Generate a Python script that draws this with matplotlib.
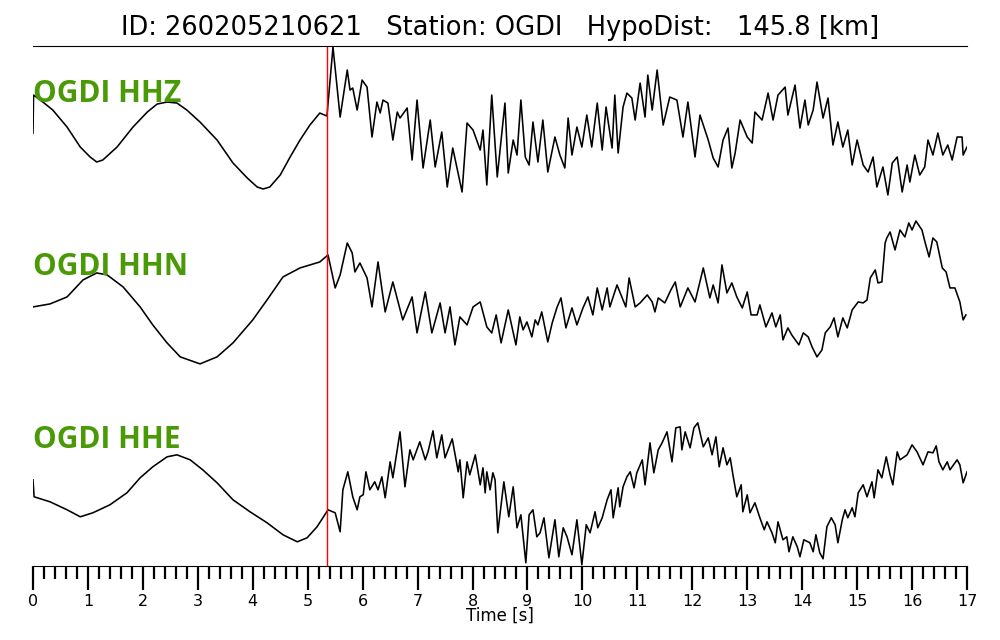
import numpy as np
import matplotlib
matplotlib.use('Agg')
import matplotlib.pyplot as plt
from matplotlib.ticker import MultipleLocator

title = 'ID: 260205210621   Station: OGDI   HypoDist:   145.8 [km]'
labels = ['OGDI HHZ', 'OGDI HHN', 'OGDI HHE']
p_pick = 5.35

# times [s] and amplitudes (arbitrary counts)
hhz_t = [0.00, 0.01, 0.18, 0.36, 0.62, 0.86, 1.04, 1.16, 1.27, 1.53, 1.82, 2.08, 2.26, 2.44, 2.62,
         2.80, 3.04, 3.35, 3.64, 3.90, 4.08, 4.19, 4.31, 4.50, 4.68, 4.86, 5.04, 5.22, 5.35,
         5.46, 5.59, 5.72, 5.77, 5.82, 5.90, 5.99, 6.08, 6.17, 6.26, 6.32, 6.37, 6.46, 6.55, 6.63,
         6.68, 6.81, 6.90, 6.99, 7.10, 7.23, 7.32, 7.44, 7.54, 7.64, 7.81, 7.90, 8.01, 8.14, 8.19,
         8.26, 8.35, 8.45, 8.59, 8.65, 8.74, 8.81, 8.88, 8.96, 9.03, 9.10, 9.19, 9.28, 9.37, 9.50,
         9.59, 9.68, 9.74, 9.81, 9.90, 9.99, 10.08, 10.17, 10.27, 10.36, 10.43, 10.54, 10.59, 10.65,
         10.74, 10.81, 10.90, 10.96, 11.05, 11.14, 11.19, 11.27, 11.36, 11.47, 11.59, 11.72, 11.83,
         11.92, 12.05, 12.14, 12.29, 12.38, 12.47, 12.56, 12.65, 12.72, 12.78, 12.87, 13.00, 13.09,
         13.14, 13.27, 13.38, 13.47, 13.56, 13.69, 13.74, 13.87, 13.96, 14.05, 14.11, 14.20, 14.27,
         14.38, 14.47, 14.56, 14.65, 14.74, 14.83, 14.91, 15.00, 15.11, 15.20, 15.29, 15.36, 15.47,
         15.56, 15.64, 15.73, 15.82, 15.91, 15.96, 16.05, 16.14, 16.23, 16.29, 16.38, 16.47, 16.56,
         16.65, 16.73, 16.82, 16.91, 16.93, 17.00]
hhz_a = [-13, 25, 18, 10, -7, -27, -37, -42, -40, -27, -7, 8, 16, 18, 17,
         10, -2, -20, -43, -58, -67, -69, -67, -55, -37, -20, -5, 7, 4,
         73, 3, 50, 30, 32, 10, 40, 33, -17, 18, 7, 20, 17, -20, 8,
         2, 12, -40, 20, -48, 0, -47, -12, -67, -28, -72, -3, -10, -30, -10,
         -65, 25, -57, 17, -53, -20, -35, 20, -37, -45, -2, -42, 0, -52, -17,
         -35, -48, 2, -35, -7, -27, 5, -27, 17, -30, 13, -28, 25, -33,
         13, 27, 22, 0, 37, 3, 45, 10, 50, -5, 23, 20, -17,
         18, -37, 5, -20, -38, -47, -20, -8, -48, -33, 0, -17, -23,
         8, 0, 27, 0, 25, 33, 5, 35, -8, 20, -5, 10, 38,
         2, 22, -25, -2, -27, -10, -45, -20, -45, -52, -37, -67, -47,
         -75, -43, -37, -72, -45, -62, -35, -55, -47, -20, -35, -13, -35,
         -25, -40, -17, -17, -35, -27]

hhn_t = [0.00, 0.31, 0.62, 0.91, 1.16, 1.35, 1.64, 1.95, 2.18, 2.44, 2.68, 3.04, 3.35, 3.64, 4.00,
         4.26, 4.55, 4.86, 5.22, 5.37,
         5.50, 5.59, 5.72, 5.81, 5.86, 5.95, 6.08, 6.17, 6.28, 6.41, 6.55, 6.73, 6.90, 6.99,
         7.14, 7.26, 7.41, 7.50, 7.59, 7.68, 7.77, 7.90, 8.01, 8.14, 8.26, 8.35, 8.43, 8.52, 8.65,
         8.79, 8.86, 8.92, 8.99, 9.08, 9.14, 9.19, 9.26, 9.37, 9.45, 9.54, 9.61, 9.70, 9.81, 9.90,
         10.01, 10.10, 10.19, 10.27, 10.36, 10.45, 10.50, 10.63, 10.79, 10.85, 10.96, 11.05, 11.18,
         11.27, 11.32, 11.38, 11.50, 11.61, 11.69, 11.78, 11.92, 12.05, 12.20, 12.32, 12.38, 12.47,
         12.54, 12.63, 12.72, 12.81, 12.91, 13.00, 13.07, 13.18, 13.23, 13.34, 13.45, 13.52, 13.60,
         13.65, 13.74, 13.81, 13.94, 14.02, 14.11, 14.18, 14.27, 14.36, 14.42, 14.51, 14.58, 14.65,
         14.74, 14.82, 14.91, 15.02, 15.11, 15.18, 15.24, 15.33, 15.38, 15.45, 15.51, 15.54, 15.60,
         15.69, 15.78, 15.87, 15.94, 16.00, 16.07, 16.18, 16.24, 16.31, 16.38, 16.45, 16.55, 16.62,
         16.69, 16.78, 16.87, 16.93, 16.98]
hhn_a = [-12, -9, -2, 15, 22, 20, 8, -12, -30, -48, -62, -69, -62, -48, -25,
         -5, 18, 27, 33, 40,
         7, 20, 52, 42, 23, 32, 17, -12, 33, -17, 13, -25, -2, -38,
         3, -38, -8, -38, -12, -50, -22, -30, -12, -7, -32, -38, -20, -48, -15,
         -50, -22, -35, -27, -42, -25, -30, -17, -47, -28, -12, -3, -33, -13, -30,
         -13, -2, -20, 7, -15, 7, -12, 10, -12, 17, -12, -8, 0,
         -7, -17, -3, -8, 5, 13, -12, 7, -7, 27, -3, 10, -8,
         30, 2, 12, -2, -13, 3, -20, -20, -10, -32, -18, -32, -20,
         -45, -33, -40, -50, -38, -42, -52, -62, -55, -38, -32, -23, -42,
         -23, -33, -15, -7, -8, -5, 17, 25, 12, 13, 52, 57, 63,
         45, 65, 58, 72, 65, 74, 65, 52, 38, 57, 53, 27, 23,
         7, 7, -7, -25, -20]

hhe_t = [0.00, 0.02, 0.31, 0.62, 0.86, 1.09, 1.40, 1.71, 1.95, 2.18, 2.44, 2.62, 2.86, 3.09, 3.35,
         3.64, 3.95, 4.26, 4.55, 4.81, 4.99, 5.17, 5.37,
         5.50, 5.59, 5.64, 5.73, 5.82, 5.90, 5.95, 6.01, 6.06, 6.13, 6.22, 6.28,
         6.35, 6.41, 6.50, 6.55, 6.68, 6.77, 6.86, 6.92, 7.04, 7.14, 7.19, 7.28, 7.35, 7.44, 7.50,
         7.63, 7.74, 7.77, 7.83, 7.90, 7.95, 8.05, 8.14, 8.19, 8.23, 8.26, 8.32, 8.37, 8.41, 8.46,
         8.57, 8.66, 8.74, 8.81, 8.88, 8.97, 9.03, 9.10, 9.17, 9.23, 9.30, 9.39, 9.50, 9.57, 9.65,
         9.72, 9.81, 9.90, 9.99, 10.07, 10.14, 10.23, 10.28, 10.36, 10.45, 10.52, 10.56, 10.65,
         10.68, 10.74, 10.81, 10.87, 10.94, 10.99, 11.09, 11.14, 11.23, 11.30, 11.38, 11.45, 11.54,
         11.63, 11.70, 11.78, 11.81, 11.87, 11.96, 12.03, 12.10, 12.20, 12.29, 12.36, 12.43, 12.49,
         12.56, 12.63, 12.69, 12.74, 12.81, 12.89, 12.92, 13.00, 13.05, 13.14, 13.23, 13.31, 13.36,
         13.45, 13.51, 13.56, 13.65, 13.72, 13.76, 13.83, 13.91, 13.96, 14.03, 14.14, 14.20, 14.25,
         14.32, 14.38, 14.45, 14.53, 14.60, 14.65, 14.73, 14.78, 14.83, 14.91, 14.96, 15.02, 15.11,
         15.18, 15.27, 15.31, 15.38, 15.45, 15.53, 15.60, 15.65, 15.73, 15.78, 15.91, 16.00, 16.09,
         16.20, 16.29, 16.38, 16.44, 16.49, 16.56, 16.64, 16.69, 16.82, 16.87, 16.93, 17.00]
hhe_a = [10, -7, -12, -20, -27, -23, -15, -3, 12, 23, 33, 35, 30, 20, 7,
         -10, -22, -33, -45, -52, -48, -37, -20,
         -23, -42, 0, 18, -7, -20, -7, -5, 18, 0, 8, 0,
         13, -8, 28, 12, 58, 3, 40, 30, 48, 30, 38, 59, 32, 55, 32,
         51, 18, 30, -8, 28, 15, 35, 5, 22, -3, 18, 0, 17, 10, -43,
         8, -27, 3, -38, -25, -73, -25, -20, -47, -43, -28, -68, -30, -67, -38,
         -47, -65, -30, -75, -35, -43, -22, -38, -28, -10, 0, -28, 2,
         -17, 3, 13, 18, 2, 17, 30, 5, 47, 17, 40, 47, 58,
         28, 62, 63, 40, 58, 42, 62, 67, 43, 52, 35, 53, 23,
         42, 25, 32, 15, -7, 5, -22, -5, -23, -13, -28, -40, -32,
         -43, -53, -32, -50, -47, -62, -47, -57, -67, -50, -53, -62, -45,
         -63, -69, -37, -28, -35, -53, -30, -20, -28, -18, -27, -3, 5,
         -7, 8, -8, 20, 12, 33, 15, 5, 38, 30, 35, 45, 38,
         25, 38, 37, 44, 28, 20, 28, 20, 30, 25, 7, 18]

traces = [(hhz_t, hhz_a), (hhn_t, hhn_a), (hhe_t, hhe_a)]
offsets = [-120, -295, -490]
label_y = [-102, -275, -448]

fig = plt.figure(figsize=(10, 6.4), dpi=100)
ax = fig.add_axes([0.033, 0.116, 0.934, 0.812])

for (t, a), off, ly, lab in zip(traces, offsets, label_y, labels):
    ax.plot(t, off + np.array(a), color='black', lw=1.15, solid_joinstyle='round')
    ax.text(0, ly, lab, color='#4a9a08', fontsize=21.5, fontweight='bold',
            family='Open Sans', ha='left', va='baseline')

ax.axvline(p_pick, color='red', lw=1.0)

ax.set_xlim(0, 17)
ax.set_ylim(-566, -46)
ax.set_yticks([])
ax.spines['left'].set_visible(False)
ax.spines['right'].set_visible(False)
ax.xaxis.set_major_locator(MultipleLocator(1))
ax.xaxis.set_minor_locator(MultipleLocator(0.2))
ax.tick_params(axis='x', which='major', direction='out', length=17, width=1.6, labelsize=11.5, pad=3)
ax.tick_params(axis='x', which='minor', direction='out', length=9, width=1.6)
ax.set_xlabel('Time [s]', fontsize=12, labelpad=-1)
ax.set_title(title, fontsize=18.5, pad=8)

fig.savefig('out.png', dpi=100)
